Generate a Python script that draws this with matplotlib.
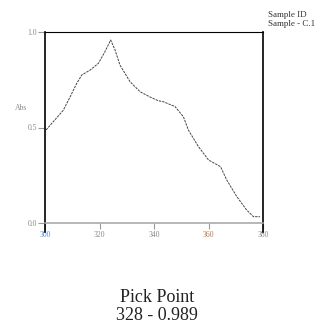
import numpy as np
import matplotlib
matplotlib.use("Agg")
import matplotlib.pyplot as plt

# spectrum
wavelength = [300.4, 303.0, 306.7, 309.2, 311.6, 313.5, 316.5, 319.6, 322.0, 324.1,
              325.7, 327.5, 331.2, 334.9, 338.5, 341.6, 343.4, 347.7, 350.8, 352.6,
              356.3, 360.0, 364.4, 366.7, 370.4, 374.0, 376.5, 378.9]
absorbance = [0.487, 0.53, 0.59, 0.66, 0.73, 0.775, 0.80, 0.836, 0.897, 0.958,
              0.906, 0.827, 0.74, 0.687, 0.66, 0.64, 0.635, 0.61, 0.556, 0.487,
              0.40, 0.33, 0.295, 0.225, 0.138, 0.068, 0.033, 0.033]
x_ticks = [300, 320, 340, 360, 380]
x_tick_colors = ['#4f8fd0', '#888888', '#888888', '#c0703a', '#888888']
y_ticks = [0.0, 0.5, 1.0]
sample_lines = ["Sample ID", "Sample - C.1"]
pick_lines = ["Pick Point", "328 - 0.989"]

fig = plt.figure(figsize=(3.19, 3.27), dpi=100)
ax = fig.add_axes([45 / 319, 1 - 223 / 327, 218 / 319, 191 / 327])

ax.plot(wavelength, absorbance, color='#444444', lw=0.7, linestyle=(0, (2.5, 1)))
ax.set_xlim(300, 380)
ax.set_ylim(0, 1)

ax.set_xticks(x_ticks)
ax.set_xticklabels([str(t) for t in x_ticks])
for lab, c in zip(ax.get_xticklabels(), x_tick_colors):
    lab.set_color(c)
ax.set_yticks(y_ticks)
ax.set_yticklabels(["%.1f" % t for t in y_ticks])
ax.tick_params(axis='x', length=4, width=0.8, color='#999999', labelsize=5.5, pad=2,
               labelfontfamily='Liberation Serif')
ax.tick_params(axis='y', length=5, width=0.8, color='#999999', labelsize=5.5, pad=1,
               labelcolor='#888888', labelfontfamily='Liberation Serif')

for side in ['left', 'right', 'top']:
    ax.spines[side].set_color('black')
ax.spines['left'].set_linewidth(1.2)
ax.spines['right'].set_linewidth(1.2)
ax.spines['top'].set_linewidth(0.8)
ax.spines['bottom'].set_color('#aaaaaa')
ax.spines['bottom'].set_linewidth(1.2)

# side spines poke out below the baseline
for xx in [0, 1]:
    ax.plot([xx, xx], [0, -0.045], transform=ax.transAxes, color='black', lw=1.2,
            clip_on=False)

ax.text(-0.11, 0.6, "Abs", transform=ax.transAxes, fontsize=5.5, color='#888888',
        family='Liberation Serif', ha='center', va='center')

fig.text(268 / 319, 1 - 15 / 327, sample_lines[0], fontsize=6.5,
         family='Liberation Serif', ha='left', va='center', color='#333333')
fig.text(268 / 319, 1 - 24 / 327, sample_lines[1], fontsize=6.5,
         family='Liberation Serif', ha='left', va='center', color='#333333')

fig.text(157 / 319, 1 - 298 / 327, pick_lines[0], fontsize=13,
         family='Liberation Serif', ha='center', va='center', color='#222222')
fig.text(157 / 319, 1 - 315 / 327, pick_lines[1], fontsize=13,
         family='Liberation Serif', ha='center', va='center', color='#222222')

fig.savefig("out.png", dpi=100)
